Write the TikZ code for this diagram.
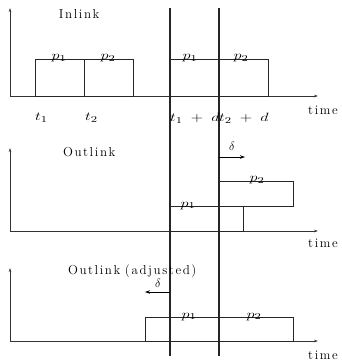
\documentclass[tikz,border=0pt]{standalone}
\usepackage{fontspec}
\usetikzlibrary{arrows.meta}
\makeatletter
\newcommand{\lsp}[1]{\ls@loop#1\relax}
\def\ls@loop#1{\ifx#1\relax\else#1\kern1.6pt\expandafter\ls@loop\fi}
\makeatother
\newcommand{\spc}{\fontsize{13}{15}\selectfont}
\newcommand{\mlab}[1]{\scalebox{1.35}[1]{\fontsize{13}{15}\selectfont$#1$}}
\tikzset{
  axis/.style={line width=0.7pt, draw=black!80, -{Stealth[length=4pt,width=2.5pt]}},
  vline/.style={line width=1.2pt, draw=black!85},
  pbox/.style={line width=0.8pt, draw=black!85},
  darr/.style={line width=0.8pt, -{Stealth[length=5pt,width=3.5pt]}},
  ttl/.style={inner sep=0pt, font=\spc},
  plab/.style={inner sep=0pt, anchor=base},
  tlab/.style={inner sep=0pt, anchor=west},
}
\begin{document}
\begin{tikzpicture}[x=1pt,y=-1pt]
\useasboundingbox (0,0) rectangle (341,363);
% coordinates
\coordinate (o1) at (10,96);  \coordinate (y1) at (10,8);   \coordinate (x1) at (318,96);
\coordinate (o2) at (10,231); \coordinate (y2) at (10,148); \coordinate (x2) at (318,231);
\coordinate (o3) at (10,341); \coordinate (y3) at (10,268); \coordinate (x3) at (318,341);
\coordinate (va) at (170,8); \coordinate (vab) at (170,356);
\coordinate (vb) at (219,8); \coordinate (vbb) at (219,356);
% axes
\draw[axis] (o1) -- (y1); \draw[axis] (o1) -- (x1);
\draw[axis] (o2) -- (y2); \draw[axis] (o2) -- (x2);
\draw[axis] (o3) -- (y3); \draw[axis] (o3) -- (x3);
% panel 1 boxes
\draw[pbox] (35,59) rectangle (84,96);
\draw[pbox] (84,59) rectangle (133,96);
\draw[pbox] (170,59) rectangle (219,96);
\draw[pbox] (219,59) rectangle (268,96);
% panel 2 boxes
\draw[pbox] (170,206) rectangle (243,231);
\draw[pbox] (219,181) rectangle (293,206);
% panel 3 box
\draw[pbox] (145,317) rectangle (293,341);
% vertical lines
\draw[vline] (va) -- (vab);
\draw[vline] (vb) -- (vbb);
% titles
\node[ttl] (tin) at (80,14) {\lsp{Inlink}};
\node[ttl] (tout) at (90,152) {\lsp{Outlink}};
\node[ttl] (tadj) at (133,271) {\lsp{Outlink}\hspace{3pt}\lsp{(adjusted)}};
% time labels
\node[ttl, anchor=west] (tm1) at (308,110) {\lsp{time}};
\node[ttl, anchor=west] (tm2) at (308,243) {\lsp{time}};
\node[ttl, anchor=west] (tm3) at (308,355) {\lsp{time}};
% packet labels
\node[plab] (p11) at (59,60) {\mlab{p_1}};
\node[plab] (p12) at (108,60) {\mlab{p_2}};
\node[plab] (p13) at (190,60) {\mlab{p_1}};
\node[plab] (p14) at (241,60) {\mlab{p_2}};
\node[plab] (p21) at (188,207) {\mlab{p_1}};
\node[plab] (p22) at (257,182) {\mlab{p_2}};
\node[plab] (p31) at (189,318) {\mlab{p_1}};
\node[plab] (p32) at (254,318) {\mlab{p_2}};
% time stamps
\node[tlab] (t1) at (35,118) {\mlab{t_1}};
\node[tlab] (t2) at (85,118) {\mlab{t_2}};
\node[tlab] (t1d) at (170,118) {\mlab{t_1\;+\;d}};
\node[tlab] (t2d) at (219,118) {\mlab{t_2\;+\;d}};
% delta arrows
\coordinate (d2a) at (219,157); \coordinate (d2b) at (245,157);
\draw[darr] (d2a) -- (d2b);
\node[inner sep=0pt, font=\fontsize{12}{14}\selectfont] (dl2) at (232,146) {$\delta$};
\coordinate (d3a) at (170,292); \coordinate (d3b) at (145,292);
\draw[darr] (d3a) -- (d3b);
\node[inner sep=0pt, font=\fontsize{12}{14}\selectfont] (dl3) at (158,283) {$\delta$};
\end{tikzpicture}
\end{document}
